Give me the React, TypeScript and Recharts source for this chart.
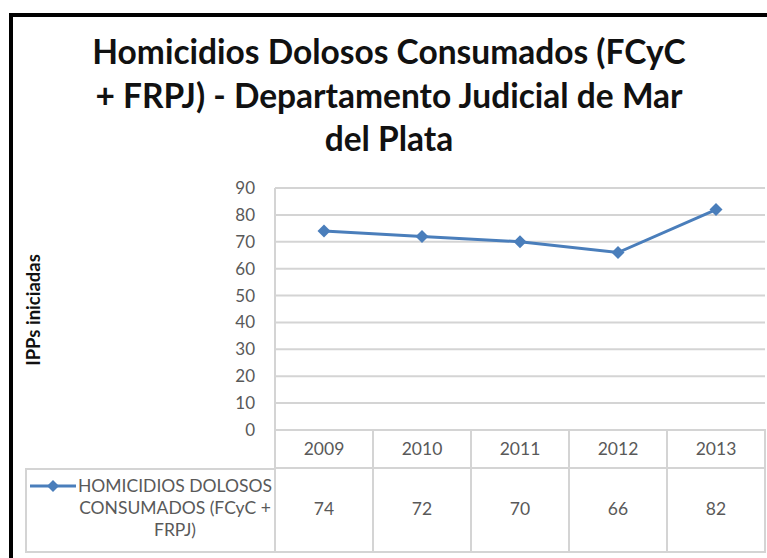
import { LineChart, Line, XAxis, YAxis, CartesianGrid, Legend } from "recharts";

const years = ["2009", "2010", "2011", "2012", "2013"];
const homicidios = [74, 72, 70, 66, 82];
const yTicks = [0, 10, 20, 30, 40, 50, 60, 70, 80, 90];
const seriesName = "HOMICIDIOS DOLOSOS CONSUMADOS (FCyC + FRPJ)";

const data = years.map((year, i) => ({ year, value: homicidios[i] }));

const BLUE = "#4a7ebb";
const GRID = "#d4d4d4";
const TEXT = "#595959";
const FONT = "Lato, 'Open Sans', sans-serif";
const PLOT_LEFT = 275;
const PLOT_RIGHT = 765;
const CELL_W = (PLOT_RIGHT - PLOT_LEFT) / years.length;
const LEGEND_H = 85;

const Diamond = (props: any) => {
  const { cx, cy } = props;
  if (cx == null || cy == null) return null;
  const r = 6.5;
  return (
    <polygon
      points={`${cx},${cy - r} ${cx + r},${cy} ${cx},${cy + r} ${cx - r},${cy}`}
      fill={BLUE}
    />
  );
};

// each x tick draws its column of the data table
const TableTick = (props: any) => {
  const { x, y, payload, index } = props;
  const left = x - CELL_W / 2;
  return (
    <g>
      <rect x={left} y={y} width={CELL_W} height={38} fill="none" stroke={GRID} strokeWidth={2} />
      <rect x={left} y={y + 38} width={CELL_W} height={84} fill="none" stroke={GRID} strokeWidth={2} />
      <text x={x} y={y + 25} textAnchor="middle" fill={TEXT} fontSize={17.5} fontFamily={FONT}>
        {payload.value}
      </text>
      <text x={x} y={y + 85} textAnchor="middle" fill={TEXT} fontSize={17.5} fontFamily={FONT}>
        {homicidios[index]}
      </text>
    </g>
  );
};

const LegendCell = () => {
  const words = seriesName.split(" ");
  return (
    <div
      style={{
        boxSizing: "border-box",
        width: 251,
        height: LEGEND_H,
        border: `2px solid ${GRID}`,
        borderRight: "none",
        color: TEXT,
        fontFamily: FONT,
        fontSize: 17.5,
        lineHeight: "22px",
        paddingTop: 5,
        paddingLeft: 3,
        display: "flex",
        alignItems: "flex-start",
        whiteSpace: "nowrap",
      }}
    >
      <svg width={46} height={22} style={{ flex: "none" }}>
        <line x1={0} y1={11} x2={46} y2={11} stroke={BLUE} strokeWidth={3} />
        <polygon points="23,5 29,11 23,17 17,11" fill={BLUE} />
      </svg>
      <div style={{ width: 198, textAlign: "center" }}>
        {words.slice(0, 2).join(" ")}
        <br />
        {words.slice(2, 5).join(" ")}
        <br />
        {words.slice(5).join(" ")}
      </div>
    </div>
  );
};

export default function App() {
  return (
    <div style={{ position: "relative", width: 767, height: 558, background: "#fff", overflow: "hidden" }}>
      <style>{"body{margin:0}"}</style>
      <div
        style={{
          position: "absolute",
          left: 9,
          top: 13,
          width: 800,
          height: 600,
          borderLeft: "4px solid #000",
          borderTop: "4px solid #000",
        }}
      />
      <div
        style={{
          position: "absolute",
          left: 39,
          top: 30,
          width: 700,
          textAlign: "center",
          fontFamily: FONT,
          fontWeight: 700,
          fontSize: 33.5,
          lineHeight: "43.5px",
          color: "#111",
          whiteSpace: "nowrap",
        }}
      >
        Homicidios Dolosos Consumados (FCyC
        <br />+ FRPJ) - Departamento Judicial de Mar
        <br />
        del Plata
      </div>
      <div
        style={{
          position: "absolute",
          left: 33,
          top: 310,
          transform: "translate(-50%, -50%) rotate(-90deg)",
          fontFamily: FONT,
          fontWeight: 700,
          fontSize: 18.5,
          color: "#111",
          whiteSpace: "nowrap",
        }}
      >
        IPPs iniciadas
      </div>
      <div style={{ position: "absolute", left: 0, top: 0 }}>
        <LineChart
          width={767}
          height={558}
          data={data}
          margin={{ top: 188, right: 767 - PLOT_RIGHT, left: PLOT_LEFT - 60, bottom: 5 }}
        >
          <CartesianGrid horizontal vertical={false} stroke={GRID} strokeWidth={2} />
          <XAxis
            dataKey="year"
            height={123 - LEGEND_H}
            padding={{ left: CELL_W / 2, right: CELL_W / 2 }}
            axisLine={false}
            tickLine={false}
            tickSize={0}
            tickMargin={0}
            interval={0}
            tick={<TableTick />}
          />
          <YAxis
            width={60}
            domain={[0, 90]}
            ticks={yTicks}
            interval={0}
            axisLine={{ stroke: GRID, strokeWidth: 2 }}
            tickLine={false}
            tickSize={6}
            tickMargin={14}
            tick={{ fill: TEXT, fontSize: 17, fontFamily: FONT }}
          />
          <Legend
            content={<LegendCell />}
            wrapperStyle={{ position: "absolute", left: 25, top: 468, width: 251, height: LEGEND_H }}
          />
          <Line
            dataKey="value"
            name={seriesName}
            stroke={BLUE}
            strokeWidth={3}
            dot={<Diamond />}
            activeDot={false}
            isAnimationActive={false}
          />
        </LineChart>
      </div>
    </div>
  );
}
